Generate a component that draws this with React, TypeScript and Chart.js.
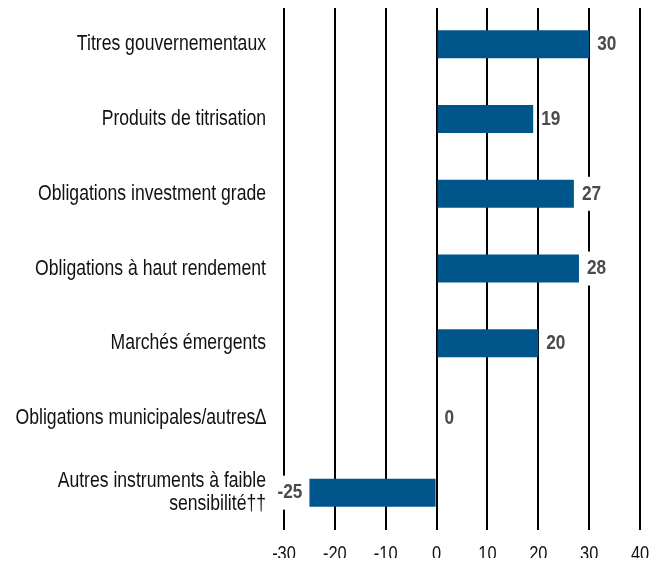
import React, { useEffect, useRef } from "react";
import { Chart, registerables } from "chart.js";

Chart.register(...registerables);

const categories: (string | string[])[] = [
  "Titres gouvernementaux",
  "Produits de titrisation",
  "Obligations investment grade",
  "Obligations à haut rendement",
  "Marchés émergents",
  "Obligations municipales/autres∆",
  ["Autres instruments à faible", "sensibilité††"],
];
const values: number[] = [30, 19, 27, 28, 20, 0, -25];
const xTicks: number[] = [-30, -20, -10, 0, 10, 20, 30, 40];
const sourceText = "PIMCO";

const FONT = "'Liberation Sans', Arial, sans-serif";
const SX = 0.8; // horizontal condensing to mimic a narrow face
const BAR = "#00558b";

function drawText(ctx: any, text: string, x: number, y: number, align: string, sx = SX) {
  ctx.save();
  ctx.translate(x, y);
  ctx.scale(sx, 1);
  ctx.textAlign = align;
  ctx.fillText(text, 0, 0);
  ctx.restore();
}

const textPlugin = {
  id: "textPlugin",
  afterDraw(chart: any) {
    const ctx = chart.ctx;
    const xs = chart.scales.x;
    const ys = chart.scales.y;
    const meta = chart.getDatasetMeta(0);
    ctx.save();
    ctx.textBaseline = "middle";
    // category labels
    ctx.font = `22px ${FONT}`;
    ctx.fillStyle = "#111";
    categories.forEach((c, i) => {
      const y = ys.getPixelForTick(i);
      const lines = Array.isArray(c) ? c : [c];
      const lh = 23;
      const y0 = y - ((lines.length - 1) * lh) / 2;
      lines.forEach((l, j) => drawText(ctx, l, ys.right - 18, y0 + j * lh, "right"));
    });
    // x tick labels
    ctx.font = `20px ${FONT}`;
    xTicks.forEach((v) => {
      drawText(ctx, String(v), xs.getPixelForValue(v), xs.top + 24, "center", 0.82);
    });
    // value labels with white backing boxes
    ctx.font = `bold 21px ${FONT}`;
    meta.data.forEach((el: any, i: number) => {
      const v = values[i];
      const s = String(v);
      const end = xs.getPixelForValue(v);
      const w = ctx.measureText(s).width * 0.82;
      const x0 = v < 0 ? end - 7 - w : end + 8;
      ctx.fillStyle = "#fff";
      ctx.fillRect(x0 - 1, el.y - 17, w + 2, 34);
      ctx.fillStyle = "#4a4a4a";
      drawText(ctx, s, x0, el.y, "left", 0.82);
    });
    // source note (cut off at the bottom edge, as in the original)
    ctx.font = `22px ${FONT}`;
    ctx.fillStyle = "#111";
    ctx.textBaseline = "alphabetic";
    drawText(ctx, sourceText, 48, 574, "left");
    ctx.restore();
  },
};

export default function App() {
  const ref = useRef<HTMLCanvasElement | null>(null);
  useEffect(() => {
    if (!ref.current) return;
    const chart = new Chart(ref.current, {
      type: "bar",
      data: {
        labels: categories,
        datasets: [
          {
            data: values,
            backgroundColor: BAR,
            borderWidth: 0,
            barPercentage: 0.375,
            categoryPercentage: 1,
          },
        ],
      },
      options: {
        indexAxis: "y",
        animation: false,
        responsive: false,
        maintainAspectRatio: false,
        layout: { padding: { top: 7, right: 25, left: 0, bottom: 0 } },
        plugins: { legend: { display: false }, tooltip: { enabled: false } },
        scales: {
          x: {
            min: -30,
            max: 40,
            afterBuildTicks: (scale: any) => {
              scale.ticks = xTicks.map((v) => ({ value: v }));
            },
            afterFit: (scale: any) => {
              scale.height = 36;
              scale.paddingLeft = 0;
              scale.paddingRight = 0;
            },
            grid: { color: "#000", lineWidth: 2, drawTicks: false },
            border: { display: false },
            ticks: { display: false },
          },
          y: {
            afterFit: (scale: any) => {
              scale.width = 284;
              scale.paddingTop = 0;
              scale.paddingBottom = 0;
            },
            grid: { display: false, drawTicks: false },
            border: { display: false },
            ticks: { display: false },
          },
        },
      },
      plugins: [textPlugin],
    });
    return () => chart.destroy();
  }, []);
  return (
    <div style={{ margin: "-8px", width: 665, height: 566, overflow: "hidden" }}>
      <canvas ref={ref} width={665} height={566} style={{ display: "block" }} />
    </div>
  );
}
